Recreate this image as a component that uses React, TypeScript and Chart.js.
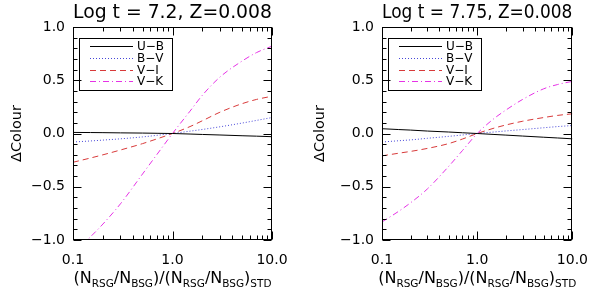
import React, { useEffect, useRef } from 'react';
import { Chart, registerables } from 'chart.js';

Chart.register(...registerables);

const FONT = '"DejaVu Sans", sans-serif';

// ---- data ----
const xValues = [0.1, 0.15, 0.2, 0.3, 0.5, 0.7, 1, 1.5, 2, 3, 5, 7, 10];
const seriesLabels = ['U\u2212B', 'B\u2212V', 'V\u2212I', 'V\u2212K'];
const leftTitle = 'Log t = 7.2, Z=0.008';
const rightTitle = 'Log t = 7.75, Z=0.008';
const yAxisTitle = '\u0394Colour';

const leftUB = [0.010, 0.009, 0.008, 0.006, 0.004, 0.002, 0, -0.005, -0.009, -0.014, -0.021, -0.025, -0.030];
const leftBV = [-0.08, -0.07, -0.062, -0.05, -0.032, -0.017, 0, 0.022, 0.038, 0.063, 0.098, 0.123, 0.15];
const leftVI = [-0.27, -0.23, -0.20, -0.155, -0.095, -0.05, 0, 0.065, 0.12, 0.20, 0.28, 0.32, 0.35];
const leftVK = [-1.13, -0.97, -0.85, -0.66, -0.38, -0.195, 0, 0.21, 0.36, 0.53, 0.68, 0.76, 0.82];

const rightUB = [0.045, 0.037, 0.032, 0.023, 0.014, 0.007, 0, -0.009, -0.015, -0.024, -0.035, -0.042, -0.05];
const rightBV = [-0.08, -0.068, -0.06, -0.045, -0.027, -0.014, 0, 0.014, 0.024, 0.037, 0.054, 0.065, 0.075];
const rightVI = [-0.21, -0.185, -0.168, -0.14, -0.095, -0.052, 0, 0.05, 0.08, 0.115, 0.15, 0.17, 0.185];
const rightVK = [-0.83, -0.73, -0.65, -0.52, -0.31, -0.16, 0, 0.14, 0.22, 0.32, 0.42, 0.46, 0.49];

const xTickValues = [0.1, 1, 10];
const yTickValues = [-1, -0.5, 0, 0.5, 1];
const xMinorFactors = [2, 3, 4, 5, 6, 7, 8, 9];
const xTitleParts: [string, boolean][] = [
  ['(N', false], ['RSG', true], ['/N', false], ['BSG', true], [')/(N', false],
  ['RSG', true], ['/N', false], ['BSG', true], [')', false], ['STD', true],
];

// ---- styles ----
const colors = ['#000000', '#4646d8', '#d83a3a', '#e632e6'];
const dashes = [[], [1, 2], [6, 4], [6, 3, 1, 3]];

const framePlugin = {
  id: 'frameTicks',
  afterDatasetsDraw(chart: any) {
    const { ctx, chartArea: a, scales } = chart;
    const L = Math.round(a.left) + 0.5;
    const R = Math.round(a.right) - 0.5;
    const T = Math.round(a.top) + 0.5;
    const B = Math.round(a.bottom) - 0.5;
    ctx.save();
    ctx.strokeStyle = '#000';
    ctx.lineWidth = 1;
    ctx.setLineDash([]);
    ctx.strokeRect(L, T, R - L, B - T);
    ctx.beginPath();
    for (let i = -10; i <= 10; i++) {
      const v = i / 10;
      const py = Math.round(scales.y.getPixelForValue(v)) + 0.5;
      const len = i % 5 === 0 ? 8 : 4;
      ctx.moveTo(L, py); ctx.lineTo(L + len, py);
      ctx.moveTo(R, py); ctx.lineTo(R - len, py);
    }
    const xs: [number, number][] = [];
    [0.1, 1].forEach((d) => {
      xs.push([d, 8]);
      xMinorFactors.forEach((k) => xs.push([d * k, 4]));
    });
    xs.push([10, 8]);
    xs.forEach(([v, len]) => {
      const px = Math.round(scales.x.getPixelForValue(v)) + 0.5;
      ctx.moveTo(px, B); ctx.lineTo(px, B - len);
      ctx.moveTo(px, T); ctx.lineTo(px, T + len);
    });
    ctx.stroke();
    ctx.restore();
  },
};

const legendPlugin = {
  id: 'boxLegend',
  afterDraw(chart: any) {
    const { ctx, chartArea: a } = chart;
    const bx = Math.round(a.left) + 6.5;
    const by = Math.round(a.top) + 11.5;
    ctx.save();
    ctx.strokeStyle = '#000';
    ctx.lineWidth = 1;
    ctx.setLineDash([]);
    ctx.strokeRect(bx, by, 93, 52);
    const rows = [19, 31, 42.5, 54];
    chart.data.datasets.forEach((ds: any, i: number) => {
      const y = Math.round(a.top + rows[i]) + 0.5;
      ctx.strokeStyle = ds.borderColor;
      ctx.setLineDash(ds.borderDash || []);
      ctx.beginPath();
      ctx.moveTo(a.left + 17, y);
      ctx.lineTo(a.left + 60, y);
      ctx.stroke();
      ctx.setLineDash([]);
      ctx.fillStyle = '#000';
      ctx.font = `12px ${FONT}`;
      ctx.textAlign = 'left';
      ctx.textBaseline = 'middle';
      ctx.fillText(ds.label, a.left + 64, y);
    });
    ctx.restore();
  },
};

const xTitlePlugin = {
  id: 'xTitle',
  afterDraw(chart: any) {
    const { ctx, chartArea: a } = chart;
    const mainFont = `16px ${FONT}`;
    const subFont = `10.5px ${FONT}`;
    ctx.save();
    let total = 0;
    const widths = xTitleParts.map(([t, sub]) => {
      ctx.font = sub ? subFont : mainFont;
      const w = ctx.measureText(t).width;
      total += w;
      return w;
    });
    let x = (a.left + a.right) / 2 - total / 2;
    ctx.fillStyle = '#000';
    ctx.textAlign = 'left';
    ctx.textBaseline = 'alphabetic';
    xTitleParts.forEach(([t, sub], i) => {
      ctx.font = sub ? subFont : mainFont;
      ctx.fillText(t, x, sub ? 287 : 283);
      x += widths[i];
    });
    ctx.restore();
  },
};

function fmt(v: number) {
  return (v < 0 ? '\u2212' : '') + Math.abs(v).toFixed(1);
}

type PanelProps = {
  title: string;
  series: number[][];
  yWidth: number;
  padRight: number;
  yTitlePad: number;
};

function Panel({ title, series, yWidth, padRight, yTitlePad }: PanelProps) {
  const ref = useRef<HTMLCanvasElement>(null);
  useEffect(() => {
    if (!ref.current) return;
    const chart = new Chart(ref.current, {
      type: 'line',
      data: {
        datasets: series.map((s, i) => ({
          label: seriesLabels[i],
          data: xValues.map((x, j) => ({ x, y: s[j] })),
          borderColor: colors[i],
          borderDash: dashes[i],
          borderWidth: 1,
          pointRadius: 0,
          fill: false,
          cubicInterpolationMode: 'monotone' as const,
        })),
      },
      options: {
        responsive: false,
        animation: false,
        devicePixelRatio: 1,
        layout: { padding: { top: 0, left: 0, bottom: 0, right: padRight } },
        plugins: {
          legend: { display: false },
          tooltip: { enabled: false },
          title: {
            display: true,
            text: title,
            fullSize: false,
            color: '#000',
            font: { family: FONT, size: 20, weight: 'normal', lineHeight: 1.15 },
            padding: { top: 1, bottom: 3 },
          },
        },
        scales: {
          x: {
            type: 'logarithmic',
            min: 0.1,
            max: 10,
            grid: { display: false, drawTicks: false },
            border: { display: false },
            afterBuildTicks: (s: any) => {
              s.ticks = xTickValues.map((v) => ({ value: v }));
            },
            afterFit: (s: any) => { s.height = 49; },
            ticks: {
              autoSkip: false,
              maxRotation: 0,
              padding: 12,
              color: '#000',
              font: { family: FONT, size: 14 },
              callback: (v: any) => Number(v).toFixed(1),
            },
          },
          y: {
            type: 'linear',
            min: -1,
            max: 1,
            grid: { display: false, drawTicks: false },
            border: { display: false },
            afterBuildTicks: (s: any) => {
              s.ticks = yTickValues.map((v) => ({ value: v }));
            },
            afterFit: (s: any) => { s.width = yWidth; },
            ticks: {
              padding: 8,
              color: '#000',
              font: { family: FONT, size: 14 },
              callback: (v: any) => fmt(Number(v)),
            },
            title: {
              display: true,
              text: yAxisTitle,
              color: '#000',
              font: { family: FONT, size: 14.5, lineHeight: 1.2 },
              padding: { top: yTitlePad, bottom: 0 },
            },
          },
        },
      } as any,
      plugins: [framePlugin, legendPlugin, xTitlePlugin],
    });
    return () => chart.destroy();
  }, []);
  return (
    <canvas
      ref={ref}
      width={300}
      height={289}
      style={{ display: 'block', width: 300, height: 289 }}
    />
  );
}

export default function App() {
  return (
    <div
      style={{
        position: 'absolute',
        left: 0,
        top: 0,
        width: 600,
        height: 289,
        display: 'flex',
        background: '#fff',
      }}
    >
      <Panel
        title={leftTitle}
        series={[leftUB, leftBV, leftVI, leftVK]}
        yWidth={73}
        padRight={28}
        yTitlePad={9}
      />
      <Panel
        title={rightTitle}
        series={[rightUB, rightBV, rightVI, rightVK]}
        yWidth={82}
        padRight={17}
        yTitlePad={12}
      />
    </div>
  );
}
